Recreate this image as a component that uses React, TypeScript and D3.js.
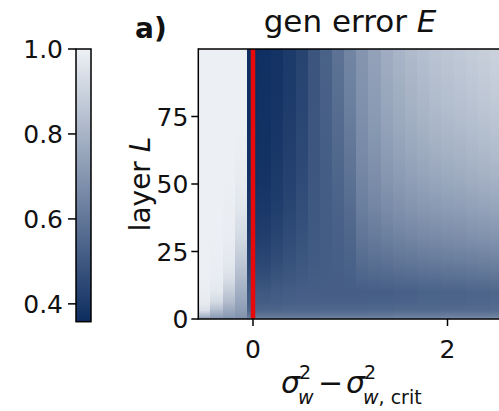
import React from "react";
import * as d3 from "d3";

// column centres: sigma_w^2 - sigma_w,crit^2
const SIGMA = [-0.5, -0.375, -0.25, -0.125, 0, 0.125, 0.25, 0.375, 0.5, 0.625, 0.75, 0.875, 1.0, 1.125, 1.25, 1.375, 1.5, 1.625, 1.75, 1.875, 2.0, 2.125, 2.25, 2.375, 2.5, 2.625];
const SIGMA_STEP = 0.125;
// layer depths where E was read
const L_KNOTS = [0, 1, 3, 6, 10, 15, 20, 30, 40, 50, 60, 70, 80, 90, 100];
// generalisation error E, one row per column of SIGMA, values at L_KNOTS
const E_VALUES = [
  [0.72, 0.8, 0.94, 0.98, 0.99, 0.995, 0.995, 0.995, 0.995, 0.995, 0.995, 0.995, 0.995, 0.995, 0.995],
  [0.7, 0.74, 0.82, 0.92, 0.97, 0.985, 0.99, 0.995, 0.995, 0.995, 0.995, 0.995, 0.995, 0.995, 0.995],
  [0.69, 0.72, 0.76, 0.82, 0.88, 0.94, 0.97, 0.985, 0.99, 0.995, 0.995, 0.995, 0.995, 0.995, 0.995],
  [0.68, 0.7, 0.72, 0.75, 0.78, 0.82, 0.86, 0.92, 0.96, 0.98, 0.99, 0.995, 0.995, 0.995, 0.995],
  [0.66, 0.6, 0.545, 0.515, 0.5, 0.469, 0.445, 0.411, 0.391, 0.379, 0.371, 0.367, 0.364, 0.363, 0.361],
  [0.66, 0.6, 0.545, 0.515, 0.5, 0.47, 0.447, 0.415, 0.395, 0.383, 0.376, 0.372, 0.369, 0.367, 0.366],
  [0.66, 0.6, 0.545, 0.52, 0.51, 0.486, 0.465, 0.436, 0.416, 0.402, 0.393, 0.387, 0.383, 0.381, 0.379],
  [0.66, 0.6, 0.55, 0.525, 0.515, 0.497, 0.481, 0.457, 0.439, 0.427, 0.418, 0.411, 0.407, 0.403, 0.401],
  [0.66, 0.6, 0.55, 0.528, 0.52, 0.507, 0.496, 0.479, 0.465, 0.455, 0.448, 0.442, 0.438, 0.435, 0.432],
  [0.66, 0.6, 0.55, 0.528, 0.52, 0.514, 0.51, 0.503, 0.498, 0.494, 0.492, 0.491, 0.49, 0.49, 0.49],
  [0.67, 0.61, 0.55, 0.528, 0.52, 0.517, 0.515, 0.513, 0.514, 0.516, 0.519, 0.522, 0.525, 0.528, 0.53],
  [0.67, 0.61, 0.55, 0.528, 0.52, 0.52, 0.521, 0.525, 0.532, 0.541, 0.551, 0.561, 0.57, 0.578, 0.585],
  [0.67, 0.61, 0.55, 0.528, 0.52, 0.524, 0.53, 0.545, 0.562, 0.58, 0.597, 0.612, 0.625, 0.636, 0.645],
  [0.67, 0.61, 0.55, 0.528, 0.52, 0.542, 0.561, 0.595, 0.621, 0.643, 0.66, 0.673, 0.684, 0.693, 0.7],
  [0.67, 0.61, 0.555, 0.53, 0.52, 0.547, 0.571, 0.611, 0.644, 0.67, 0.69, 0.707, 0.72, 0.731, 0.74],
  [0.67, 0.61, 0.555, 0.53, 0.52, 0.551, 0.579, 0.626, 0.664, 0.694, 0.718, 0.737, 0.753, 0.765, 0.775],
  [0.68, 0.62, 0.56, 0.535, 0.525, 0.558, 0.588, 0.639, 0.68, 0.712, 0.738, 0.759, 0.776, 0.789, 0.8],
  [0.68, 0.62, 0.56, 0.535, 0.525, 0.561, 0.593, 0.647, 0.691, 0.726, 0.754, 0.776, 0.794, 0.808, 0.82],
  [0.68, 0.62, 0.56, 0.54, 0.53, 0.567, 0.6, 0.657, 0.702, 0.738, 0.767, 0.79, 0.809, 0.823, 0.835],
  [0.68, 0.62, 0.56, 0.54, 0.53, 0.569, 0.604, 0.663, 0.71, 0.748, 0.778, 0.802, 0.822, 0.837, 0.85],
  [0.69, 0.625, 0.565, 0.54, 0.535, 0.574, 0.61, 0.67, 0.718, 0.756, 0.787, 0.812, 0.832, 0.847, 0.86],
  [0.69, 0.625, 0.565, 0.54, 0.535, 0.576, 0.612, 0.674, 0.723, 0.763, 0.795, 0.82, 0.84, 0.857, 0.87],
  [0.69, 0.625, 0.565, 0.545, 0.54, 0.581, 0.618, 0.681, 0.731, 0.771, 0.804, 0.829, 0.85, 0.867, 0.88],
  [0.69, 0.625, 0.565, 0.545, 0.54, 0.583, 0.621, 0.685, 0.737, 0.779, 0.812, 0.838, 0.86, 0.877, 0.89],
  [0.7, 0.63, 0.57, 0.55, 0.545, 0.588, 0.627, 0.692, 0.745, 0.787, 0.82, 0.847, 0.868, 0.886, 0.9],
  [0.7, 0.63, 0.57, 0.55, 0.545, 0.589, 0.628, 0.694, 0.748, 0.79, 0.824, 0.851, 0.873, 0.891, 0.905],
];

const X_TICKS = [0, 2];
const Y_TICKS = [0, 25, 50, 75];
const CB_TICKS = [0.4, 0.6, 0.8, 1.0];
const CB_DOMAIN = [0.358, 1.0];
const CRIT_LINE = 0;

const FONT = "DejaVu Sans, Liberation Sans, sans-serif";

export default function App() {
  const W = 499, H = 411;
  const x = d3.scaleLinear().domain([0, 2]).range([253, 447.5]);
  const y = d3.scaleLinear().domain([0, 100]).range([319, 49]);
  const color = d3.scaleLinear<string>().domain(CB_DOMAIN).range(["#0d2d60", "#eef1f5"]).interpolate(d3.interpolateRgb);
  const cbY = d3.scaleLinear().domain(CB_DOMAIN).range([321.7, 49]);

  const xLeft = x(-0.5625);
  const xRight = x(2.5625);
  const yTop = y(100), yBot = y(0);
  const cbX0 = 76, cbX1 = 91;

  const cells: any[] = [];
  const grads: any[] = [];
  SIGMA.forEach((s, i) => {
    const x0 = x(s - SIGMA_STEP / 2);
    const x1 = x(s + SIGMA_STEP / 2);
    for (let k = 0; k < L_KNOTS.length - 1; k++) {
      const id = `g${i}_${k}`;
      const v0 = E_VALUES[i][k], v1 = E_VALUES[i][k + 1];
      grads.push(
        <linearGradient key={id} id={id} x1="0" y1="1" x2="0" y2="0">
          <stop offset="0" stopColor={color(v0)} />
          <stop offset="1" stopColor={color(v1)} />
        </linearGradient>
      );
      const ya = y(L_KNOTS[k + 1]);
      const yb = y(L_KNOTS[k]);
      cells.push(
        <rect key={id} x={x0} y={ya - 0.3} width={x1 - x0 + 0.6} height={yb - ya + 0.6} fill={`url(#${id})`} shapeRendering="crispEdges" />
      );
    }
  });

  const cbStops = d3.range(0, 1.0001, 0.05).map((t) => ({ t, c: color(CB_DOMAIN[0] + t * (CB_DOMAIN[1] - CB_DOMAIN[0])) }));

  return (
    <svg width={W} height={H} style={{ position: "absolute", left: 0, top: 0, background: "#fff" }} fontFamily={FONT}>
      <defs>
        {grads}
        <linearGradient id="cbgrad" x1="0" y1="1" x2="0" y2="0">
          {cbStops.map((s) => (
            <stop key={s.t} offset={s.t} stopColor={s.c} />
          ))}
        </linearGradient>
        <clipPath id="plotclip">
          <rect x={xLeft} y={yTop} width={xRight - xLeft} height={yBot - yTop} />
        </clipPath>
      </defs>
      <rect x={0} y={0} width={W} height={H} fill="#fff" />

      {/* colorbar */}
      <rect x={cbX0} y={cbY(1.0)} width={cbX1 - cbX0} height={cbY(CB_DOMAIN[0]) - cbY(1.0)} fill="url(#cbgrad)" stroke="#000" strokeWidth={1.5} />
      {CB_TICKS.map((t) => (
        <g key={t}>
          <line x1={cbX0 - 8} x2={cbX0} y1={cbY(t)} y2={cbY(t)} stroke="#000" strokeWidth={1.5} />
          <text x={cbX0 - 13} y={cbY(t)} dy="0.36em" textAnchor="end" fontSize={25} fill="#111">
            {t.toFixed(1)}
          </text>
        </g>
      ))}

      {/* heatmap */}
      <g clipPath="url(#plotclip)">{cells}</g>
      <line x1={x(CRIT_LINE)} x2={x(CRIT_LINE)} y1={yTop} y2={yBot} stroke="#e80a0a" strokeWidth={4.5} />

      {/* spines */}
      <line x1={xLeft} x2={xLeft} y1={yTop - 0.75} y2={yBot + 0.75} stroke="#000" strokeWidth={1.5} />
      <line x1={xLeft} x2={xRight} y1={yTop} y2={yTop} stroke="#000" strokeWidth={1.5} />
      <line x1={xLeft} x2={xRight} y1={yBot} y2={yBot} stroke="#000" strokeWidth={1.5} />
      <line x1={xRight} x2={xRight} y1={yTop} y2={yBot} stroke="#000" strokeWidth={1.5} />

      {/* y ticks */}
      {Y_TICKS.map((t) => (
        <g key={t}>
          <line x1={xLeft - 7} x2={xLeft} y1={y(t)} y2={y(t)} stroke="#000" strokeWidth={1.5} />
          <text x={xLeft - 10} y={y(t)} dy="0.36em" textAnchor="end" fontSize={25} fill="#111">
            {t}
          </text>
        </g>
      ))}
      {/* x ticks */}
      {X_TICKS.map((t) => (
        <g key={t}>
          <line x1={x(t)} x2={x(t)} y1={yBot} y2={yBot + 7} stroke="#000" strokeWidth={1.5} />
          <text x={x(t)} y={358} textAnchor="middle" fontSize={25} fill="#111">
            {t}
          </text>
        </g>
      ))}

      {/* y label */}
      <text transform={`translate(150,${(yTop + yBot) / 2}) rotate(-90)`} textAnchor="middle" fontSize={28} fill="#111">
        layer <tspan fontStyle="italic">L</tspan>
      </text>

      {/* title */}
      <text x={350} y={32} textAnchor="middle" fontSize={31} fill="#111">
        gen error <tspan fontStyle="italic">E</tspan>
      </text>
      <text x={135} y={38} fontSize={28} fontWeight="bold" fill="#111">a)</text>

      {/* x label */}
      <g fill="#111">
        <text x={281} y={393} fontSize={30} fontStyle="italic">σ</text>
        <text x={299} y={379} fontSize={19}>2</text>
        <text x={298} y={404} fontSize={19} fontStyle="italic">w</text>
        <text x={318} y={393} fontSize={30}>−</text>
        <text x={346} y={393} fontSize={30} fontStyle="italic">σ</text>
        <text x={364} y={379} fontSize={19}>2</text>
        <text x={363} y={404} fontSize={19}>
          <tspan fontStyle="italic">w</tspan>, crit
        </text>
      </g>
    </svg>
  );
}
